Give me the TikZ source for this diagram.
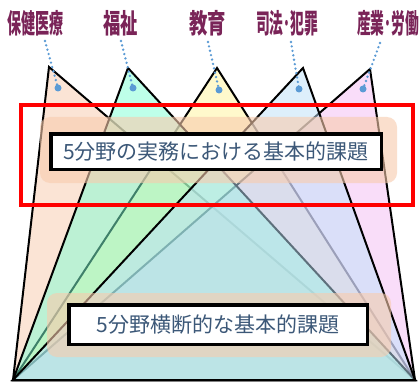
\documentclass[tikz,border=0pt]{standalone}
\usepackage{fontspec}
\newfontfamily\jp{Noto Sans CJK JP}
\definecolor{c1}{RGB}{248,203,173}
\definecolor{c2}{RGB}{127,255,212}
\definecolor{c3}{RGB}{255,245,155}
\definecolor{c4}{RGB}{189,225,249}
\definecolor{c5}{RGB}{245,189,245}
\definecolor{labcol}{RGB}{122,36,88}
\definecolor{dotblue}{RGB}{91,155,213}
\definecolor{boxtext}{RGB}{60,88,120}
\definecolor{orng}{RGB}{248,203,173}
\begin{document}
\begin{tikzpicture}[x=1pt,y=-1pt,
  tri/.style={draw=black, line width=2pt, fill opacity=0.5, miter limit=4},
  dotline/.style={draw=dotblue, line width=2.6pt, line cap=round, dash pattern=on 0pt off 4.5pt},
  bluedot/.style={circle, fill=dotblue, minimum size=7pt, inner sep=0pt},
  lab/.style={anchor=base, text=labcol, inner sep=0pt, font=\jp\bfseries\fontsize{27}{32}\selectfont},
  obox/.style={rectangle, rounded corners=10pt, fill=orng, fill opacity=0.6, inner sep=0pt},
  wbox/.style={rectangle, draw=black, line width=3.5pt, fill=white, text=boxtext, inner sep=0pt, font=\jp\fontsize{21}{25}\selectfont},
  redframe/.style={rectangle, draw=red, line width=4pt, inner sep=0pt}
]
\clip (0,0) rectangle (420,385);
\fill[white] (0,0) rectangle (420,385);
% triangle vertices
\coordinate (BL) at (13,380);
\coordinate (BR) at (415,380);
\coordinate (A1) at (49,67);
\coordinate (A2) at (128,68);
\coordinate (A3) at (217,68);
\coordinate (A4) at (303,68);
\coordinate (A5) at (370,69);
% triangles (stacking order 1,3,5,2,4)
\filldraw[tri, fill=c1] (A1) -- (BL) -- (BR) -- cycle;
\filldraw[tri, fill=c3] (A3) -- (BL) -- (BR) -- cycle;
\filldraw[tri, fill=c5] (A5) -- (BL) -- (BR) -- cycle;
\filldraw[tri, fill=c2] (A2) -- (BL) -- (BR) -- cycle;
\filldraw[tri, fill=c4] (A4) -- (BL) -- (BR) -- cycle;
% labels
\node[lab] (lab1) at (35.5,33.5) {\scalebox{0.52}[1]{保健医療}};
\node[lab] (lab2) at (120.5,33.5) {\scalebox{0.64}[1]{福祉}};
\node[lab] (lab3) at (207.5,33.5) {\scalebox{0.68}[1]{教育}};
\node[lab] (lab4) at (287,33.5) {\scalebox{0.51}[1]{司法･犯罪}};
\node[lab] (lab5) at (388,33.5) {\scalebox{0.51}[1]{産業･労働}};
% dotted leaders
\coordinate (s1) at (45,41);
\coordinate (s2) at (121,41);
\coordinate (s3) at (208,42);
\coordinate (s4) at (291,42);
\coordinate (s5) at (380,43);
\node[bluedot] (d1) at (58,88) {};
\node[bluedot] (d2) at (133,88) {};
\node[bluedot] (d3) at (219,90) {};
\node[bluedot] (d4) at (299,89) {};
\node[bluedot] (d5) at (363,89) {};
\draw[dotline] (s1) -- (d1.center);
\draw[dotline] (s2) -- (d2.center);
\draw[dotline] (s3) -- (d3.center);
\draw[dotline] (s4) -- (d4.center);
\draw[dotline] (s5) -- (d5.center);
% translucent orange bands
\node[obox, minimum width=357pt, minimum height=66pt] (ob1) at (218.5,150) {};
\node[obox, minimum width=344pt, minimum height=64pt] (ob2) at (219,325) {};
% text boxes
\node[wbox, minimum width=330.5pt, minimum height=35.5pt] (t1) at (216,151.5) {5分野の実務における基本的課題};
\node[wbox, minimum width=298.5pt, minimum height=39.5pt] (t2) at (218,324.5) {5分野横断的な基本的課題};
% red highlight frame
\node[redframe, minimum width=392pt, minimum height=100.6pt] (focus) at (216.5,155) {};
\end{tikzpicture}
\end{document}
